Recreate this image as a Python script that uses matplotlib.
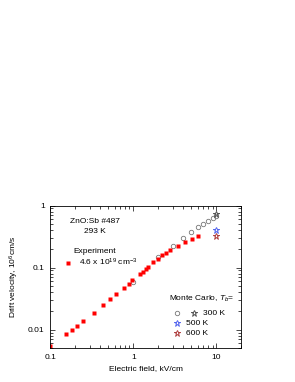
import matplotlib.pyplot as plt

plt.rcParams['font.family'] = ['Liberation Sans', 'DejaVu Sans']
plt.rcParams['font.size'] = 6
plt.rcParams['mathtext.fontset'] = 'custom'
plt.rcParams['mathtext.rm'] = 'Liberation Sans'
plt.rcParams['mathtext.it'] = 'Liberation Sans:italic'

# experiment, ZnO:Sb #487, 293 K
exp_field = [0.1, 0.156, 0.181, 0.211, 0.252, 0.334, 0.432, 0.532, 0.628, 0.768, 0.88, 0.98,
             1.19, 1.32, 1.42, 1.52, 1.75, 1.99, 2.24, 2.49, 2.78, 3.43, 4.16, 5.04, 6.1]
exp_vel = [0.0055, 0.0085, 0.0100, 0.0116, 0.0140, 0.0185, 0.0249, 0.0311, 0.0370, 0.0468, 0.0543, 0.0622,
           0.0777, 0.0857, 0.0946, 0.104, 0.121, 0.139, 0.157, 0.173, 0.194, 0.222, 0.257, 0.291, 0.317]

# Monte Carlo, Tb = 300 K
mc_field = [1, 2, 3, 4, 5, 6, 7, 8, 9, 10]
mc_vel = [0.059, 0.146, 0.222, 0.302, 0.377, 0.443, 0.50, 0.567, 0.625, 0.69]

# stars at 10 kV/cm
star_field = [10, 10, 10]
star_vel = [0.72, 0.40, 0.32]
star_colors = ['#555555', '#5566ee', '#b04040']

fig = plt.figure(figsize=(2.95, 3.82), dpi=100)
ax = fig.add_axes([0.170, 0.088, 0.648, 0.374])

ax.plot(mc_field, mc_vel, 'o', ms=3.2, mfc='none', mec='#777777', mew=0.6)
ax.plot(exp_field, exp_vel, 's', ms=3, color='#ff0000', mec='none')
for xv, yv, c in zip(star_field, star_vel, star_colors):
    ax.plot(xv, yv, '*', ms=4.8, mfc='none', mec=c, mew=0.7)

ax.set_xscale('log')
ax.set_yscale('log')
ax.set_xlim(0.1, 20)
ax.set_ylim(0.005, 1)
ax.set_xticks([0.1, 1, 10])
ax.set_xticklabels(['0.1', '1', '10'])
ax.set_yticks([0.01, 0.1, 1])
ax.set_yticklabels(['0.01', '0.1', '1'])
ax.tick_params(which='both', direction='in', top=True, right=True, width=0.5, labelsize=6)
ax.tick_params(which='major', length=3.5, pad=4)
ax.tick_params(which='minor', length=2)
for s in ax.spines.values():
    s.set_linewidth(0.6)

ax.set_xlabel('Electric field, kV/cm', labelpad=3)
ax.set_ylabel('Drift velocity, 10$^6$cm/s', labelpad=5)

# annotations
ax.text(0.232, 0.885, 'ZnO:Sb #487', transform=ax.transAxes, ha='center', va='center')
ax.text(0.232, 0.815, '293 K', transform=ax.transAxes, ha='center', va='center')
ax.text(0.122, 0.68, 'Experiment', transform=ax.transAxes, ha='left', va='center')
ax.plot(0.095, 0.6, 's', ms=3, color='#ff0000', mec='none', transform=ax.transAxes)
ax.text(0.15, 0.6, '4.6 x 10$^{19}$ cm$^{-3}$', transform=ax.transAxes, ha='left', va='center')

ax.text(0.62, 0.345, 'Monte Carlo, $T_b$=', transform=ax.transAxes, ha='left', va='center')
ax.plot(0.665, 0.245, 'o', ms=3.2, mfc='none', mec='#777777', mew=0.6, transform=ax.transAxes)
ax.plot(0.75, 0.245, '*', ms=4.8, mfc='none', mec=star_colors[0], mew=0.7, transform=ax.transAxes)
ax.text(0.8, 0.245, '300 K', transform=ax.transAxes, ha='left', va='center')
ax.plot(0.665, 0.175, '*', ms=4.8, mfc='none', mec=star_colors[1], mew=0.7, transform=ax.transAxes)
ax.text(0.71, 0.175, '500 K', transform=ax.transAxes, ha='left', va='center')
ax.plot(0.665, 0.105, '*', ms=4.8, mfc='none', mec=star_colors[2], mew=0.7, transform=ax.transAxes)
ax.text(0.71, 0.105, '600 K', transform=ax.transAxes, ha='left', va='center')

plt.savefig('out.png', dpi=100)
